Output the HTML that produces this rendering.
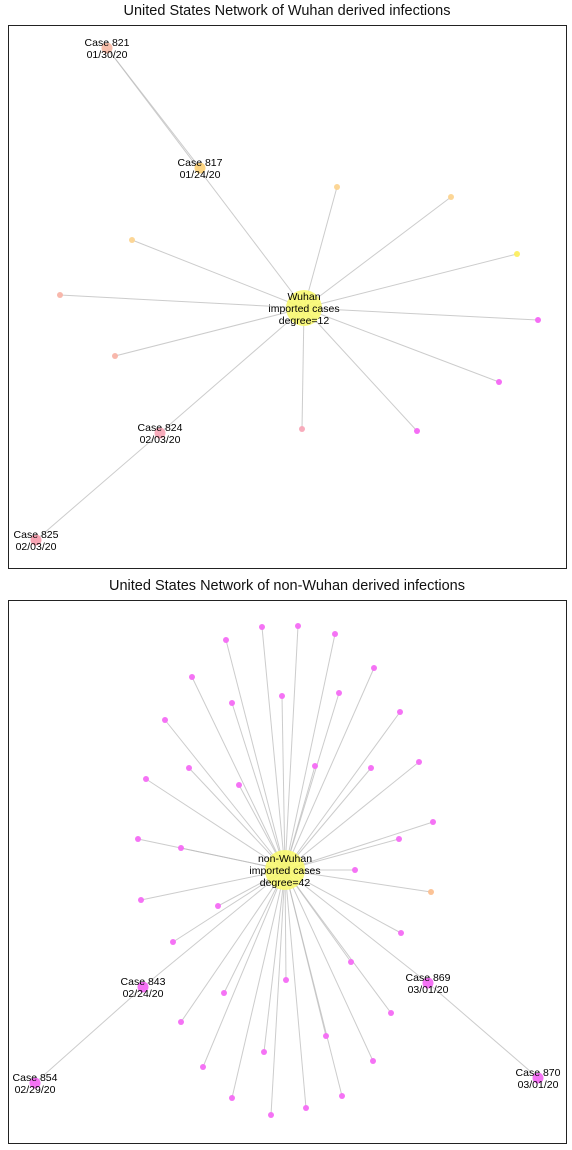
<!DOCTYPE html>
<html><head><meta charset="utf-8"><style>
body{margin:0;background:#fff;width:572px;height:1150px;overflow:hidden;font-family:"Liberation Sans","DejaVu Sans",sans-serif}
svg{position:absolute;left:0;top:0}
</style></head><body>
<svg id="chart" width="572" height="1150"></svg>
<script>
// Top network: layout positions (panel-local units), parent index (-1 = hub), colors, labels
const topNames=["hub","c821","c817","n3","n4","n5","n6","n7","n8","n9","n10","n11","n12","c824","c825"];
const topX=[296,99,192,329,443,124,509,52,530,107,491,294,409,152,28];
const topY=[283,23,143,162,172,215,229,270,295,331,357,404,406,408,515];
const topParent=[-1,0,1,0,0,0,0,0,0,0,0,0,0,0,13];
const topColor=["#f8f870","#f8bca8","#fcd27a","#fcd490","#fcd490","#fcd490","#fcee60","#f8b4a8","#f466f4","#f8b4a8","#f466f4","#f8a8b8","#f466f4","#f8a8b8","#f8a0b0"];
const topLabel=["Wuhan|imported cases|degree=12","Case 821|01/30/20","Case 817|01/24/20","","","","","","","","","","","Case 824|02/03/20","Case 825|02/03/20"];
// Bottom network
const botX=[277,254,290,218,327,366,184,274,331,224,157,392,181,307,363,138,411,231,425,130,391,173,347,423,133,210,393,165,343,278,135,420,216,383,173,318,256,365,195,530,27,224,334,298,263];
const botY=[270,27,26,40,34,68,77,96,93,103,120,112,168,166,168,179,162,185,222,239,239,248,270,292,300,306,333,342,362,380,387,383,393,413,422,436,452,461,467,478,483,498,496,508,515];
const botParent=[-1,0,0,0,0,0,0,0,0,0,0,0,0,0,0,0,0,0,0,0,0,0,0,0,0,0,0,0,0,0,0,0,0,0,0,0,0,0,0,31,30,0,0,0,0];
const botLabelIdx=[0,30,31,39,40];
const botLabel=["non-Wuhan|imported cases|degree=42","Case 843|02/24/20","Case 869|03/01/20","Case 870|03/01/20","Case 854|02/29/20"];

const NS="http://www.w3.org/2000/svg";
const svg=document.getElementById('chart');
function mk(t,a){const e=document.createElementNS(NS,t);for(const k in a)e.setAttribute(k,a[k]);return e;}

function panel(ox,oy,title,xs,ys,par,colorFn,labelFn,hubR,name){
  const sx=v=>ox+v, sy=v=>oy+v;
  const g=mk('g',{});
  
  
  svg.appendChild(g);
  const t=mk('text',{x:287,y:oy-10,'text-anchor':'middle','font-size':'14.5',fill:'#111'});
  t.textContent=title;
  
  
  g.appendChild(t);
  const box=mk('rect',{x:ox+0.5,y:oy+0.5,width:558,height:543,fill:'none',stroke:'#222','stroke-width':1});
  
  
  g.appendChild(box);
  for(let i=0;i<xs.length;i++){if(par[i]<0)continue;const p=par[i];
    const l=mk('line',{x1:sx(xs[p]),y1:sy(ys[p]),x2:sx(xs[i]),y2:sy(ys[i]),stroke:'#bbb','stroke-opacity':0.75,'stroke-width':1});
    
    
    g.appendChild(l);}
  for(let i=0;i<xs.length;i++){
    const lab=labelFn(i);
    const r=i===0?hubR:(lab?5.5:3);
    const c=mk('circle',{cx:sx(xs[i]),cy:sy(ys[i]),r:r,fill:colorFn(i),'fill-opacity':i===0?0.9:0.95});
    
    
    g.appendChild(c);}
  for(let i=0;i<xs.length;i++){
    const lab=labelFn(i); if(!lab)continue;
    const lines=lab.split('|');
    const tx=mk('text',{x:sx(xs[i]),'text-anchor':'middle','font-size':'10.5',fill:'#000'});
    
    
    const y0=sy(ys[i])-(lines.length-1)*6+4;
    lines.forEach((s,k)=>{const ts=mk('tspan',{x:sx(xs[i]),y:y0+k*12});ts.textContent=s;tx.appendChild(ts);});
    g.appendChild(tx);}
}
panel(8,25,"United States Network of Wuhan derived infections",topX,topY,topParent,i=>topColor[i],i=>topLabel[i],18,'wuhan-network');
panel(8,600,"United States Network of non-Wuhan derived infections",botX,botY,botParent,
  i=>i===0?"#f8f870":(i===23?"#fcc090":"#f46cf4"),
  i=>{const k=botLabelIdx.indexOf(i);return k>=0?botLabel[k]:"";},20,'non-wuhan-network');
</script>
</body></html>
